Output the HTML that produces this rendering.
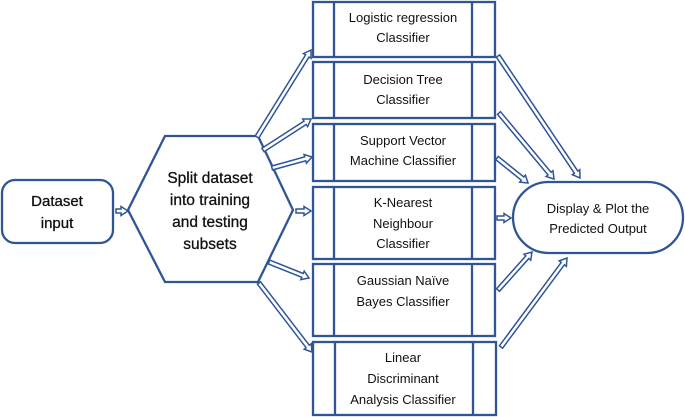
<!DOCTYPE html>
<html><head><meta charset="utf-8"><style>
body{margin:0;background:#fff}
svg{display:block}
text{font-family:"Liberation Sans",sans-serif;fill:#111;text-anchor:middle}
</style></head><body>
<svg id="s" width="685" height="417" viewBox="0 0 685 417">
<g fill="none" stroke="#2f5597" stroke-width="2.3">
<rect x="2" y="180" width="111" height="63" rx="13"/>
<polygon points="128,210 165,136 258,136 293,210 258,282 165,282"/>
<rect x="313" y="2" width="182" height="55"/>
<rect x="313" y="62" width="182" height="56"/>
<rect x="313" y="124" width="182" height="57"/>
<rect x="313" y="187" width="182" height="72"/>
<rect x="313" y="264" width="182" height="72"/>
<rect x="313" y="342" width="183" height="73"/>
<path d="M334,2V57M472,2V57M334,62V118M472,62V118M334,124V181M472,124V181M334,187V259M472,187V259M334,264V336M472,264V336M335,342V415M473,342V415"/>
<rect x="513" y="182" width="170" height="71" rx="35.5"/>
</g>
<g id="arr"></g>
<g font-size="15" stroke="#111" stroke-width="0.3">
<text x="57" y="206">Dataset</text><text x="57" y="228">input</text>
</g>
<g font-size="15.5" stroke="#111" stroke-width="0.3">
<text x="210" y="183">Split dataset</text>
<text x="210" y="205">into training</text>
<text x="210" y="227">and testing</text>
<text x="210" y="249">subsets</text>
</g>
<g font-size="13">
<text x="403" y="22">Logistic regression</text><text x="403" y="42">Classifier</text>
<text x="403" y="84">Decision Tree</text><text x="403" y="104">Classifier</text>
<text x="403" y="145">Support Vector</text><text x="403" y="165">Machine Classifier</text>
<text x="403" y="207">K-Nearest</text><text x="403" y="228">Neighbour</text><text x="403" y="248">Classifier</text>
<text x="403" y="285">Gaussian Naïve</text><text x="403" y="306">Bayes Classifier</text>
<text x="403" y="362">Linear</text><text x="403" y="383">Discriminant</text><text x="403" y="404">Analysis Classifier</text>
<text x="598" y="213">Display &amp; Plot the</text><text x="598" y="233">Predicted Output</text>
</g>
</svg>
<script>
var A=[[116,211,128,211],[257,137,311,50],[263,150,311,119],[272,168,312,157],[296,211,311,211],[269,262,309,278],[259,283,312,352],
[498,56,580,178],[499,113,554,179],[497,158,528,183],[497,218,511,218],[498,290,532,252],[501,347,567,258]];
var h='';
A.forEach(function(a){var dx=a[2]-a[0],dy=a[3]-a[1],L=Math.hypot(dx,dy),ux=dx/L,uy=dy/L,nx=-uy,ny=ux;
var w=2,hw=4.5,hl=7;function p(t,n){return (a[0]+ux*t+nx*n).toFixed(1)+','+(a[1]+uy*t+ny*n).toFixed(1)}
h+='<polygon fill="#fff" stroke="#2f5597" stroke-width="1.5" points="'+[p(0,-w),p(L-hl,-w),p(L-hl,-hw),p(L,0),p(L-hl,hw),p(L-hl,w),p(0,w)].join(' ')+'"/>';});
document.getElementById('arr').innerHTML=h;
</script>
</body></html>
